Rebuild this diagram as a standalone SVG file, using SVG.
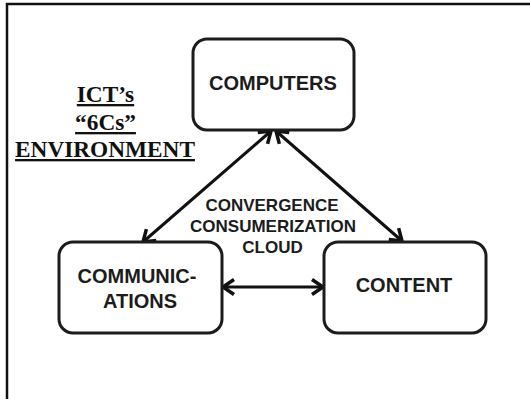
<svg xmlns="http://www.w3.org/2000/svg" width="530" height="399" viewBox="0 0 530 399">
<defs>
<style>
.box{fill:#fff;stroke:#1c1c1c;stroke-width:3}
.lbl{font-family:"Liberation Sans",Arial,sans-serif;font-weight:bold;font-size:20px;fill:#1c1c1c;text-anchor:middle}
.mid{font-family:"Liberation Sans",Arial,sans-serif;font-weight:bold;font-size:17px;fill:#1c1c1c;text-anchor:middle}
.ttl{font-family:"Liberation Serif","Times New Roman",serif;font-weight:bold;font-size:23.3px;fill:#111;text-anchor:middle;text-decoration:underline}
.con{stroke:#111;stroke-width:3;fill:none}
</style>
<marker id="ah" markerUnits="userSpaceOnUse" viewBox="-14 -10 16 20" refX="0" refY="0" markerWidth="16" markerHeight="20" orient="auto-start-reverse">
<path d="M -11 -7.5 L 0 0 L -11 7.5" fill="none" stroke="#111" stroke-width="3.5" stroke-linejoin="miter"/>
</marker>
</defs>
<rect x="0" y="0" width="530" height="399" fill="#fff"/>
<rect x="7" y="4" width="600" height="500" fill="none" stroke="#111" stroke-width="2.5"/>
<g id="title">
<text class="ttl" x="105.5" y="102">ICT’s</text>
<text class="ttl" x="105.5" y="130">“6Cs”</text>
<text class="ttl" x="105" y="157">ENVIRONMENT</text>
</g>
<g id="connectors">
<line class="con" x1="271" y1="131" x2="143" y2="242" marker-start="url(#ah)" marker-end="url(#ah)"/>
<line class="con" x1="276" y1="131" x2="402" y2="241" marker-start="url(#ah)" marker-end="url(#ah)"/>
<line class="con" x1="223" y1="287" x2="323" y2="287" marker-start="url(#ah)" marker-end="url(#ah)"/>
</g>
<g id="computers">
<rect class="box" x="193" y="39" width="161" height="91" rx="14"/>
<text class="lbl" x="273" y="90">COMPUTERS</text>
</g>
<g id="communications">
<rect class="box" x="59" y="242" width="163" height="91" rx="14"/>
<text class="lbl" x="137" y="283">COMMUNIC-</text>
<text class="lbl" x="140" y="308">ATIONS</text>
</g>
<g id="content">
<rect class="box" x="324" y="242" width="162" height="91" rx="14"/>
<text class="lbl" x="404" y="292">CONTENT</text>
</g>
<g id="center-label">
<text class="mid" x="272" y="210.5">CONVERGENCE</text>
<text class="mid" x="273" y="231.5">CONSUMERIZATION</text>
<text class="mid" x="272.5" y="252.5">CLOUD</text>
</g>
</svg>
